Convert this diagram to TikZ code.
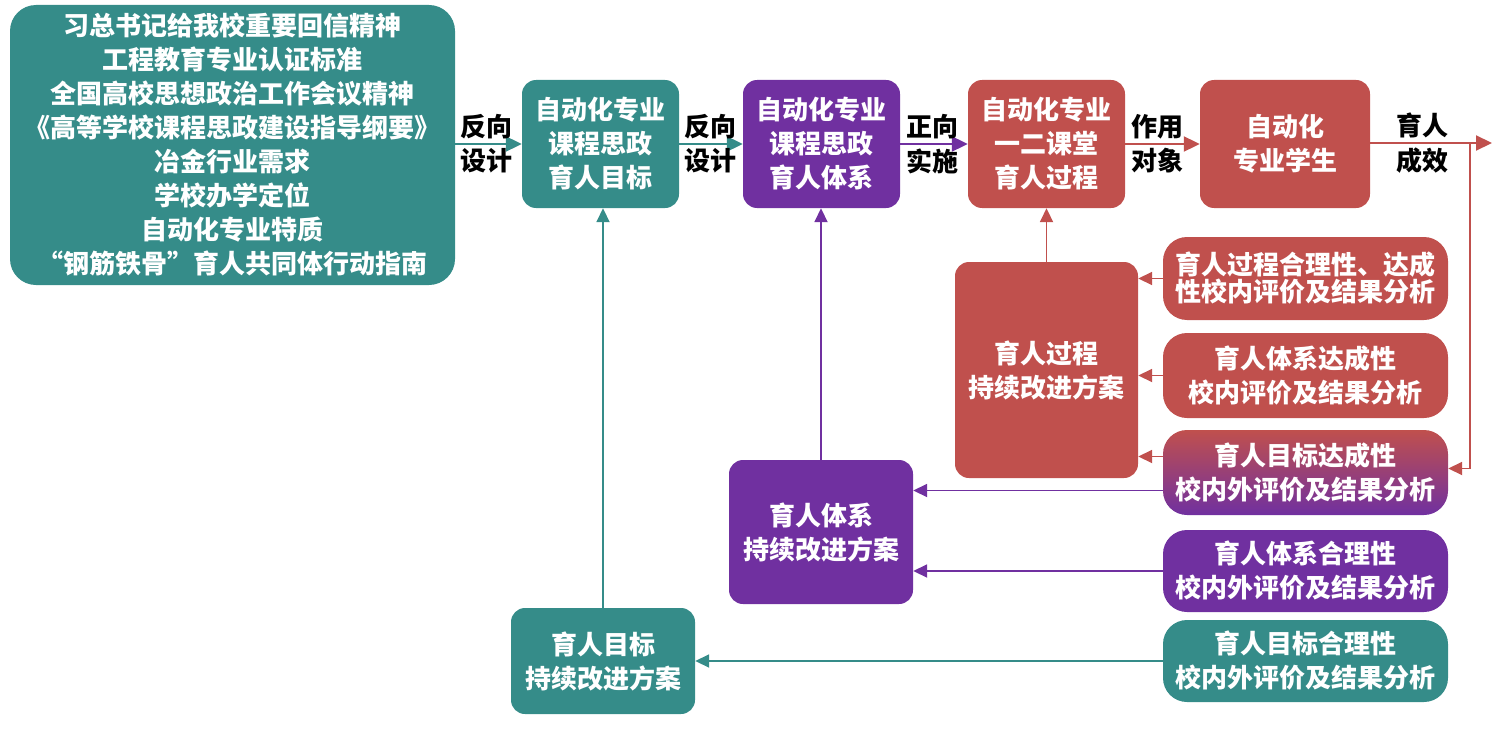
\documentclass[tikz,border=0pt]{standalone}
\usepackage{fontspec}
\setmainfont{Noto Sans CJK SC}
\usetikzlibrary{arrows.meta,
    positioning}

\definecolor{tealbox}{HTML}{358C89}
\definecolor{purplebox}{HTML}{7030A0}
\definecolor{redbox}{HTML}{C0504D}

\tikzset{
    box/.style={rounded corners=14pt, text=white, align=center, inner sep=0pt,
        font=\fontsize{26}{34}\selectfont\bfseries},
    evalbox/.style={box, rounded corners=24pt, minimum width=285pt},
    flow/.style={line width=2pt, -{Triangle[length=16pt,width=15pt]}},
    back/.style={line width=1.8pt, -{Triangle[length=14pt,width=13pt]}},
    lbl/.style={font=\fontsize{26}{30}\selectfont\bfseries, inner sep=0pt}
}

\begin{document}
\begin{tikzpicture}[x=1pt,y=-1pt]
    \useasboundingbox (0,0) rectangle (1503,733);
    % top row
    \node[box, fill=tealbox, rounded corners=26pt, minimum width=445pt, minimum height=280pt] (src) at (232.5,145)
        {习总书记给我校重要回信精神\\工程教育专业认证标准\\全国高校思想政治工作会议精神\\《高等学校课程思政建设指导纲要》\\冶金行业需求\\学校办学定位\\自动化专业特质\\“钢筋铁骨”育人共同体行动指南};
    \node[box, fill=tealbox, minimum width=157pt, minimum height=128pt] (goal) at (600.5,144) {自动化专业\\课程思政\\育人目标};
    \node[box, fill=purplebox, minimum width=157pt, minimum height=128pt] (sys) at (821.5,144) {自动化专业\\课程思政\\育人体系};
    \node[box, fill=redbox, minimum width=157pt, minimum height=128pt] (proc) at (1046.5,144) {自动化专业\\一二课堂\\育人过程};
    \node[box, fill=redbox, minimum width=170pt, minimum height=128pt] (stud) at (1285,144) {自动化\\专业学生};
    \coordinate (outcome) at (1492,143);
    \coordinate (turn) at (1470,143);

    % evaluation boxes
    \node[evalbox, fill=redbox, minimum height=83pt, font=\fontsize{26}{27}\selectfont\bfseries] (r1) at (1305.5,278.5) {育人过程合理性、达成\\性校内评价及结果分析};
    \node[evalbox, fill=redbox, minimum height=85pt] (r2) at (1305.5,375.5) {育人体系达成性\\校内评价及结果分析};
    \node[evalbox, top color=redbox, bottom color=purplebox, minimum height=85pt] (r3) at (1305.5,472.5) {育人目标达成性\\校内外评价及结果分析};
    \node[evalbox, fill=purplebox, minimum height=82pt] (r4) at (1305.5,571) {育人体系合理性\\校内外评价及结果分析};
    \node[evalbox, fill=tealbox, minimum height=82pt] (r5) at (1305.5,661) {育人目标合理性\\校内外评价及结果分析};
    \coordinate (r3up) at ([yshift=16pt]r3.west);
    \coordinate (r3down) at ([yshift=-18pt]r3.west);
    \coordinate (r3in) at ([yshift=4pt]r3.east);

    % improvement plans
    \node[box, fill=redbox, minimum width=183pt, minimum height=216pt] (procfix) at (1046.5,370) {育人过程\\持续改进方案};
    \node[box, fill=purplebox, minimum width=184pt, minimum height=144pt] (sysfix) at (821,532) {育人体系\\持续改进方案};
    \node[box, fill=tealbox, minimum width=184pt, minimum height=106pt] (goalfix) at (603,661) {育人目标\\持续改进方案};

    % forward chain
    \draw[flow, tealbox] (src.east |- goal.west) -- (goal.west);
    \node[lbl] at (486,127) {反向};
    \node[lbl] at (486,161) {设计};
    \draw[flow, tealbox] (goal.east) -- (sys.west);
    \node[lbl] at (710,127) {反向};
    \node[lbl] at (710,161) {设计};
    \draw[flow, purplebox] (sys.east) -- (proc.west);
    \node[lbl] at (932,127) {正向};
    \node[lbl] at (932,161) {实施};
    \draw[flow, redbox] (proc.east) -- (stud.west);
    \node[lbl] at (1157,127) {作用};
    \node[lbl] at (1157,161) {对象};
    \draw[flow, redbox] (stud.east |- outcome) -- (outcome);
    \node[lbl] at (1422,125) {育人};
    \node[lbl] at (1422,161) {成效};

    % feedback
    \draw[back, redbox] (turn) |- (r3in);
    \draw[back, redbox] (r1.west) -- (procfix.east |- r1.west);
    \draw[back, redbox] (r2.west) -- (procfix.east |- r2.west);
    \draw[back, redbox] (r3up) -- (procfix.east |- r3up);
    \draw[back, purplebox] (r3down) -- (sysfix.east |- r3down);
    \draw[back, purplebox] (r4.west) -- (sysfix.east |- r4.west);
    \draw[back, tealbox] (r5.west) -- (goalfix.east);
    \draw[back, redbox] (procfix.north) -- (proc.south);
    \draw[back, purplebox] (sysfix.north) -- (sysfix.north |- sys.south);
    \draw[back, tealbox] (goalfix.north) -- (goalfix.north |- goal.south);
\end{tikzpicture}
\end{document}
